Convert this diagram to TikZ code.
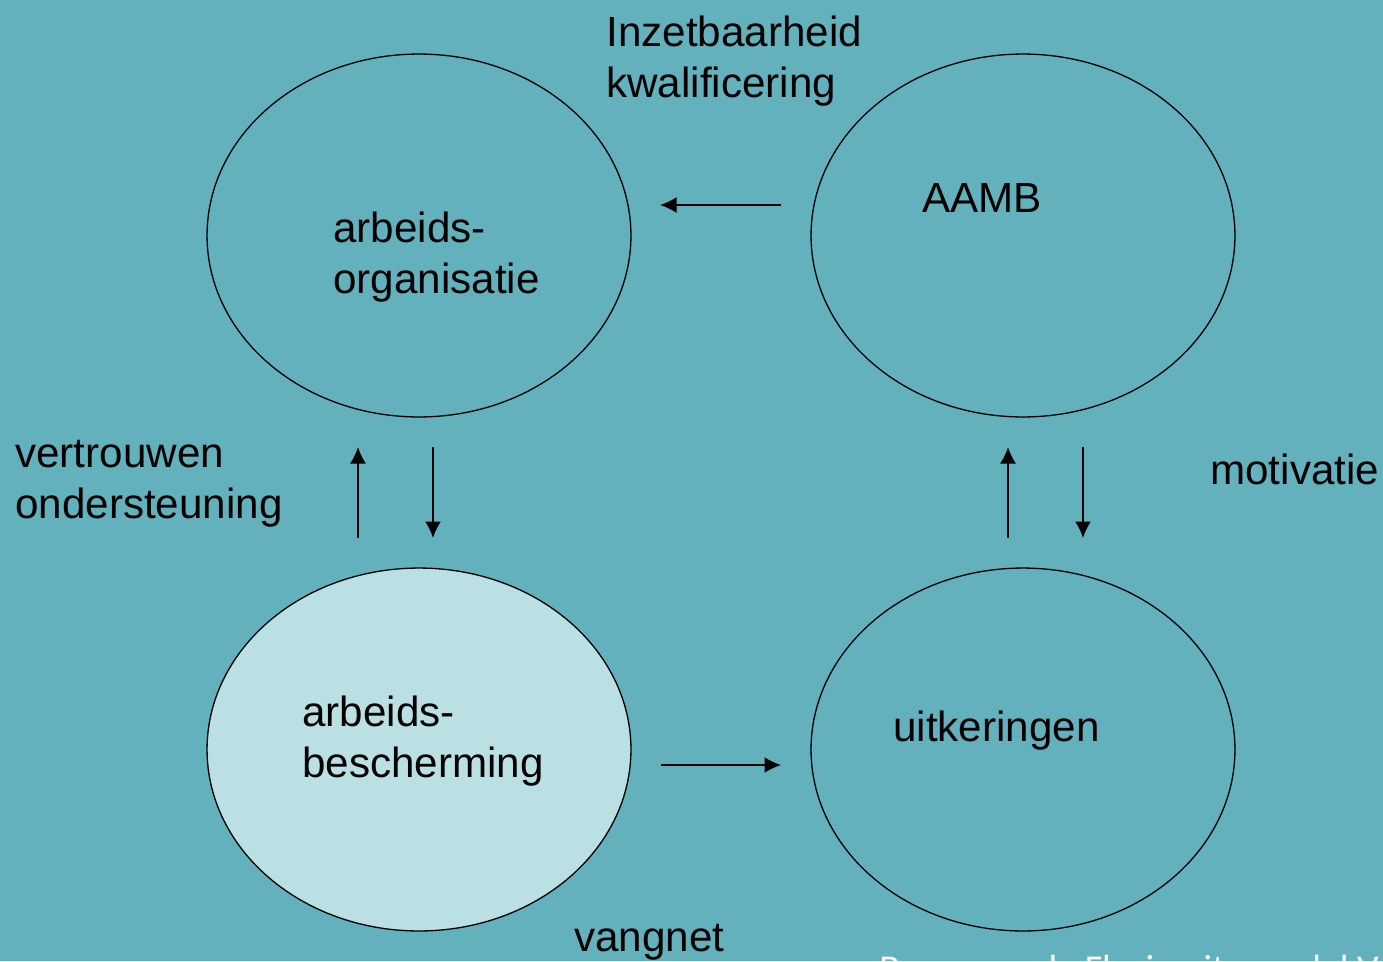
\documentclass[tikz,border=0pt]{standalone}
\usepackage{fontspec}
\setmainfont{Liberation Sans}
\newfontfamily\bronfont{Carlito}
\usetikzlibrary{shapes.geometric,arrows.meta,positioning}
\definecolor{achtergrond}{RGB}{99,177,188}
\definecolor{lichtblauw}{RGB}{186,224,228}
\tikzset{
  cirkel/.style={draw, ellipse, line width=0.75pt, minimum width=8.48cm, minimum height=7.26cm, inner sep=0pt},
  tekst/.style={anchor=base west, align=left, inner sep=0pt, font=\fontsize{24}{29}\selectfont},
  pijl/.style={-{Latex[length=0.33cm, width=0.32cm]}, line width=1.1pt}
}
\begin{document}
\begin{tikzpicture}[x=0.02cm, y=-0.02cm]
  % achtergrond
  \fill[achtergrond] (0,0) rectangle (1383,961);
  \useasboundingbox (0,0) rectangle (1383,961);

  % vier cirkels
  \node[cirkel] (org) at (419,235.5) {};
  \node[cirkel] (aamb) at (1023,235.5) {};
  \node[cirkel, fill=lichtblauw] (besch) at (419,749.5) {};
  \node[cirkel] (uitk) at (1023,749.5) {};

  % teksten in de cirkels (base = laatste regel)
  \node[tekst] (orgtekst) at (333,293) {arbeids-\\organisatie};
  \node[tekst] (aambtekst) at (922,212) {AAMB};
  \node[tekst] (beschtekst) at (302,777) {arbeids-\\bescherming};
  \node[tekst] (uitktekst) at (893,741) {uitkeringen};

  % teksten bij de pijlen
  \node[tekst] (inzet) at (606,97) {Inzetbaarheid\\kwalificering};
  \node[tekst] (vertr) at (15,518) {vertrouwen\\ondersteuning};
  \node[tekst] (motiv) at (1210,484) {motivatie};
  \node[tekst] (vangnet) at (574,951) {vangnet};
  \node[anchor=base west, inner sep=0pt, text=white, font=\bronfont\fontsize{21.6}{26}\selectfont] (bron) at (879,981) {Bron: van de Flexicurity model V};

  % eindpunten van de pijlen
  \coordinate (boven1) at (781,205);
  \coordinate (boven2) at (660,205);
  \coordinate (onder1) at (661,765);
  \coordinate (onder2) at (781,765);
  \coordinate (links1) at (358,538);
  \coordinate (links2) at (358,447);
  \coordinate (links3) at (433,447);
  \coordinate (links4) at (433,538);
  \coordinate (rechts1) at (1008,538);
  \coordinate (rechts2) at (1008,447);
  \coordinate (rechts3) at (1083,447);
  \coordinate (rechts4) at (1083,538);

  % pijlen
  \draw[pijl] (boven1) -- (boven2);
  \draw[pijl] (onder1) -- (onder2);
  \draw[pijl] (links1) -- (links2);
  \draw[pijl] (links3) -- (links4);
  \draw[pijl] (rechts1) -- (rechts2);
  \draw[pijl] (rechts3) -- (rechts4);
\end{tikzpicture}
\end{document}
